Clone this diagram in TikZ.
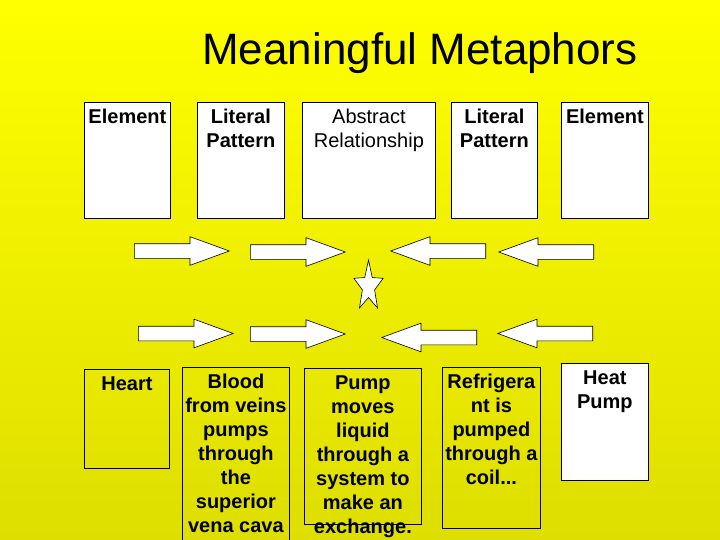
\documentclass[tikz,border=0pt]{standalone}
\usepackage{fontspec}
\setmainfont{Liberation Sans}
\usetikzlibrary{positioning, shapes.geometric, shapes.arrows}
\definecolor{slidetop}{RGB}{255,255,0}
\definecolor{slidebot}{RGB}{222,222,0}
\tikzset{
  cell/.style={
    draw, rectangle, line width=0.8pt,
    anchor=north west, inner sep=0pt
  },
  whitecell/.style={cell, fill=white},
  celltxt/.style={
    anchor=north, align=center, inner sep=2pt,
    font=\fontsize{20}{24}\selectfont\bfseries
  },
  plaintxt/.style={
    anchor=north, align=center, inner sep=2pt,
    font=\fontsize{20}{24}\selectfont
  },
  blockarr/.style={
    draw, fill=white, single arrow, line width=0.6pt, anchor=tail,
    minimum height=95pt, inner xsep=0pt, inner ysep=7pt,
    single arrow head extend=7pt, single arrow tip angle=40
  },
}
\begin{document}
\begin{tikzpicture}[x=1pt, y=-1pt]
        \useasboundingbox (0,0) rectangle (720,540);
        \shade[top color=slidetop, bottom color=slidebot] (0,0) rectangle (720,540);
        \node[font=\fontsize{44}{50}\selectfont, anchor=base] (title) at (420,65) {Meaningful Metaphors};
        % top row
        \node[whitecell, minimum width=86pt, minimum height=116pt] (elemL) at (84,102) {};
        \node[whitecell, minimum width=87pt, minimum height=116pt] (litL) at (197,102) {};
        \node[whitecell, minimum width=133pt, minimum height=116pt] (abst) at (302,102) {};
        \node[whitecell, minimum width=86pt, minimum height=116pt] (litR) at (451,102) {};
        \node[whitecell, minimum width=87pt, minimum height=116pt] (elemR) at (561,102) {};
        \node[celltxt] (elemLT) at ([yshift=-4.5pt]elemL.north) {Element};
        \node[celltxt] (litLT) at ([yshift=-4.5pt]litL.north) {Literal\\Pattern};
        \node[plaintxt] (abstT) at ([yshift=-4.5pt]abst.north) {Abstract\\Relationship};
        \node[celltxt] (litRT) at ([yshift=-4.5pt]litR.north) {Literal\\Pattern};
        \node[celltxt] (elemRT) at ([yshift=-4.5pt]elemR.north) {Element};
        % arrows and star
        \foreach \nm/\tx/\ty/\dir in
          {arrA/134/251/0, arrB/250/252/0, arrC/486/251/180, arrD/594/252/180,
           arrE/138/333.5/0, arrF/250/334/0, arrG/477/337.5/180, arrH/593/333.5/180}{
          \node[blockarr, shape border rotate=\dir] (\nm) at (\tx,\ty) {};
        }
        \node[star, star points=5, star point ratio=2.4, draw, fill=white, line width=0.6pt,
              minimum size=53pt, inner sep=0pt, xscale=0.58] (star) at (368.5,286.5) {};
        % bottom row
        \node[cell, minimum width=85pt, minimum height=99pt] (heart) at (84,369) {};
        \node[cell, minimum width=107pt, minimum height=185pt] (blood) at (182,367) {};
        \node[cell, minimum width=117pt, minimum height=156pt] (pump) at (304,368) {};
        \node[cell, minimum width=98pt, minimum height=161pt] (refr) at (442,367) {};
        \node[whitecell, minimum width=87pt, minimum height=117pt] (heatp) at (561,363) {};
        \node[celltxt] (heartT) at ([yshift=-5.5pt]heart.north) {Heart};
        \node[celltxt] (bloodT) at ([yshift=-5pt]blood.north) {Blood\\from veins\\pumps\\through\\the\\superior\\vena cava};
        \node[celltxt] (pumpT) at ([yshift=-6pt]pump.north) {Pump\\moves\\liquid\\through a\\system to\\make an\\exchange.};
        \node[celltxt] (refrT) at ([yshift=-4.5pt]refr.north) {Refrigera\\nt is\\pumped\\through a\\coil...};
        \node[celltxt] (heatpT) at ([yshift=-5.5pt]heatp.north) {Heat\\Pump};
      \end{tikzpicture}
\end{document}
